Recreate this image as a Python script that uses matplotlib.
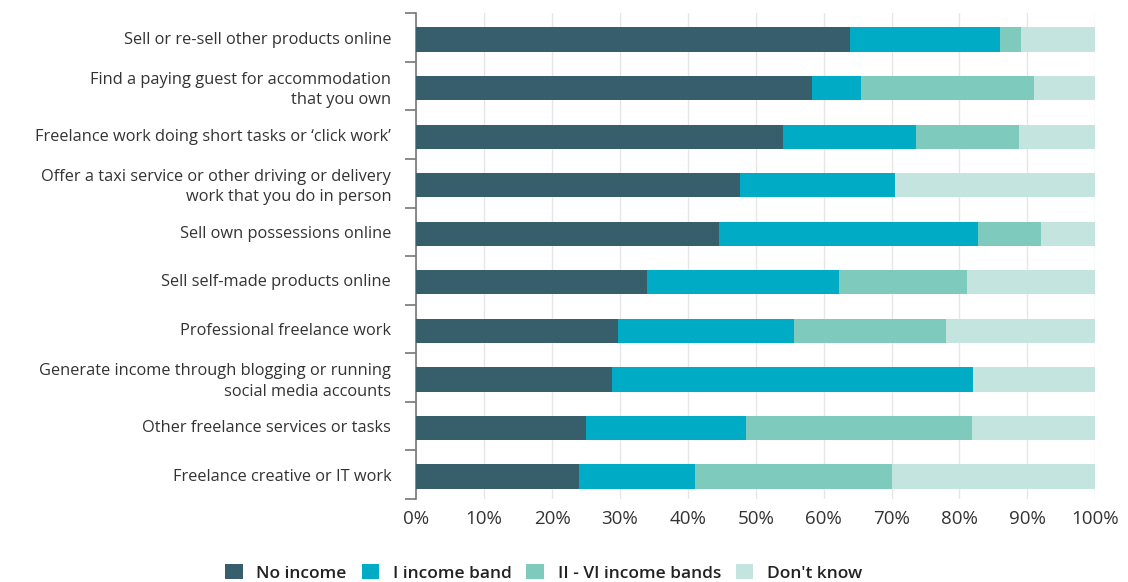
import matplotlib
matplotlib.use("Agg")
import matplotlib.pyplot as plt
import numpy as np
from matplotlib.ticker import FuncFormatter, FixedLocator

plt.rcParams['font.family'] = ['Open Sans', 'DejaVu Sans']

categories = [
    "Sell or re-sell other products online",
    "Find a paying guest for accommodation\nthat you own",
    "Freelance work doing short tasks or \u2018click work\u2019",
    "Offer a taxi service or other driving or delivery\nwork that you do in person",
    "Sell own possessions online",
    "Sell self-made products online",
    "Professional freelance work",
    "Generate income through blogging or running\nsocial media accounts",
    "Other freelance services or tasks",
    "Freelance creative or IT work",
]
no_income = [63.9, 58.3, 54.0, 47.7, 44.6, 34.0, 29.7, 28.9, 25.0, 23.9]
band_1 = [22.0, 7.2, 19.6, 22.8, 38.2, 28.3, 26.0, 53.1, 23.6, 17.2]
band_2_6 = [3.1, 25.5, 15.1, 0.0, 9.2, 18.8, 22.3, 0.0, 33.3, 29.0]
dont_know = [100 - a - b - c for a, b, c in zip(no_income, band_1, band_2_6)]

series = [no_income, band_1, band_2_6, dont_know]
labels = ["No income", "I income band", "II - VI income bands", "Don't know"]
colors = ["#365f6b", "#00abc5", "#7ecbbe", "#c4e5df"]

fig = plt.figure(figsize=(11.28, 5.82), dpi=100)
ax = fig.add_axes([0.369, 0.143, 0.602, 0.834])

y = np.arange(len(categories))
left = np.zeros(len(categories))
for vals, lab, col in zip(series, labels, colors):
    ax.barh(y + 0.04, vals, left=left, height=0.5, color=col, label=lab, zorder=3)
    left += np.array(vals)

ax.set_xlim(0, 100)
ax.set_ylim(len(categories) - 0.5, -0.5)
ax.set_xticks(np.arange(0, 101, 10))
ax.xaxis.set_major_formatter(FuncFormatter(lambda v, p: f"{v:.0f}%"))
ax.grid(axis='x', color='#e6e6e6', linewidth=1, zorder=0)

ax.set_yticks(y)
ax.set_yticklabels(categories, fontsize=11.8, color='#333333', ha='right',
                   multialignment='right', linespacing=1.35)
ax.tick_params(axis='y', length=0, pad=18)
ax.yaxis.set_minor_locator(FixedLocator(np.arange(-0.5, len(categories), 1)))
ax.tick_params(axis='y', which='minor', length=8, color='#777777', width=1.2)
ax.tick_params(axis='x', length=0, labelsize=13.5, labelcolor='#333333', pad=8)

for s in ['top', 'right', 'bottom']:
    ax.spines[s].set_visible(False)
ax.spines['left'].set_color('#777777')
ax.spines['left'].set_linewidth(1.2)

leg = fig.legend(loc='lower center', bbox_to_anchor=(0.482, -0.026), ncol=4, frameon=False,
                 handlelength=1.0, handleheight=1.0, columnspacing=0.85, handletextpad=0.8,
                 prop={'size': 12.5, 'weight': 'semibold'})
for t in leg.get_texts():
    t.set_color('#222222')

fig.savefig("out.png", dpi=100)
